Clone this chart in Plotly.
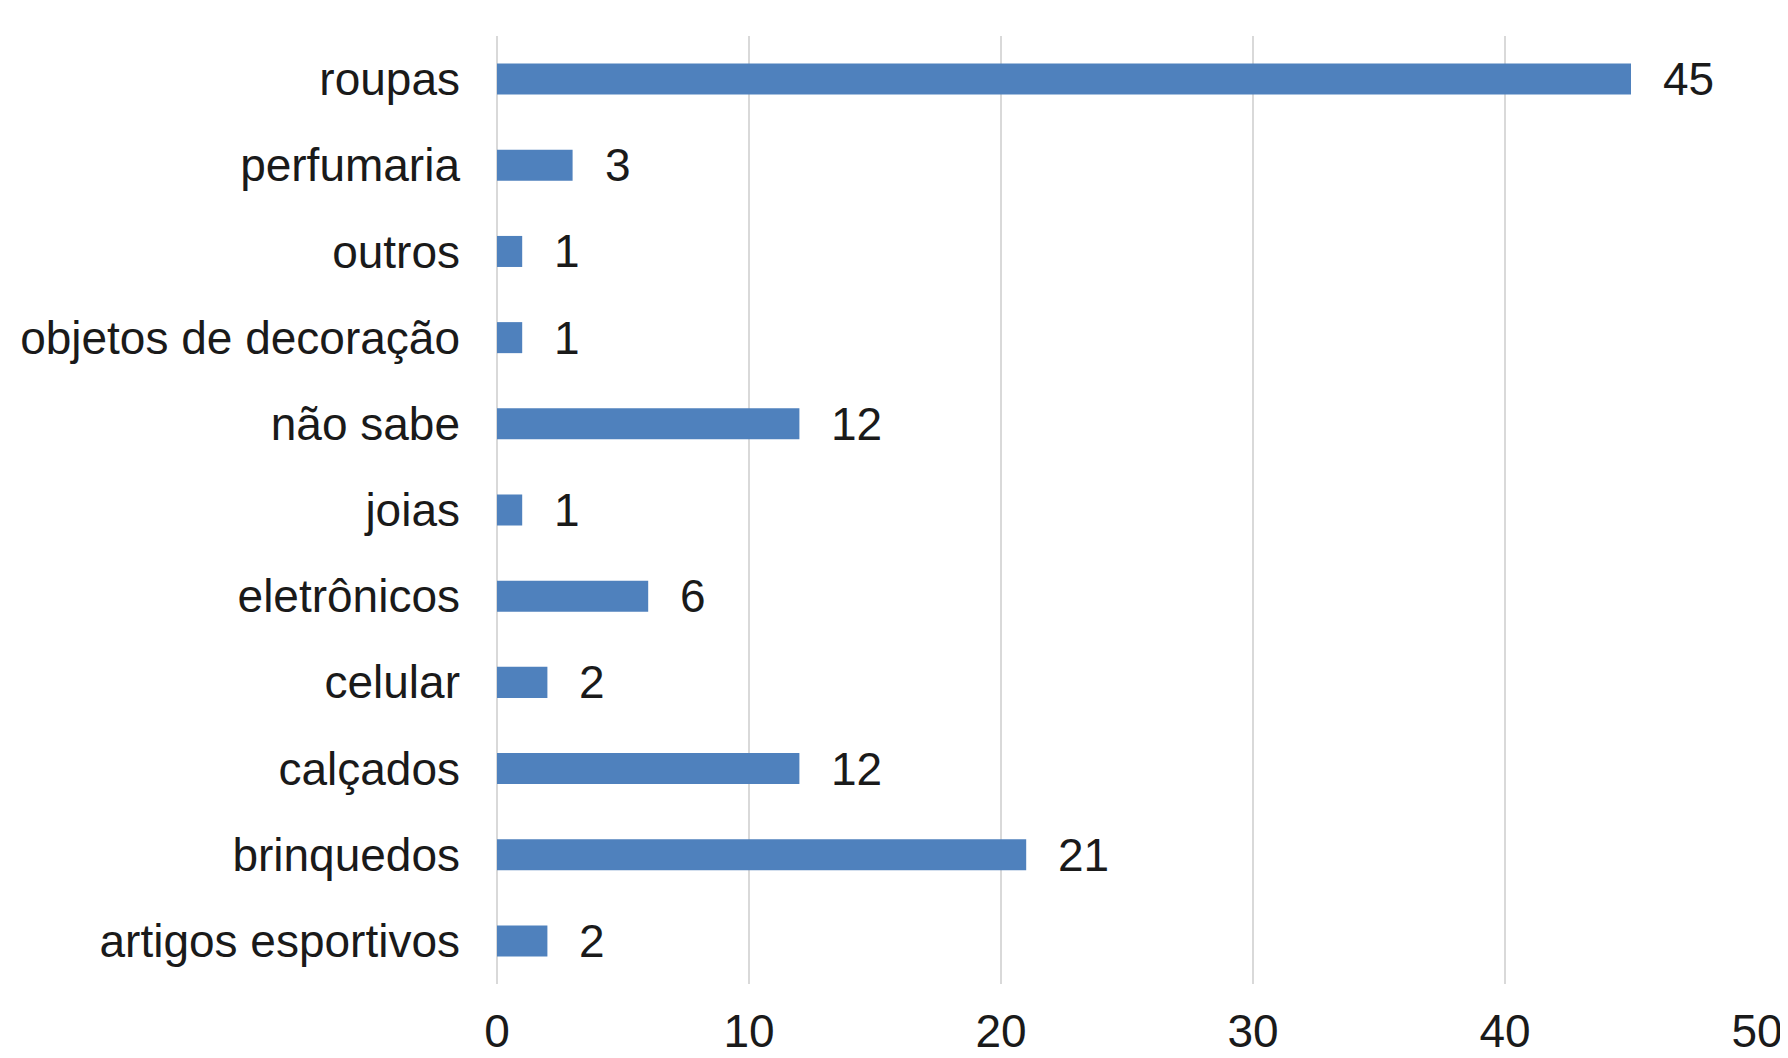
import plotly.graph_objects as go

categories = ["artigos esportivos", "brinquedos", "calçados", "celular", "eletrônicos",
              "joias", "não sabe", "objetos de decoração", "outros", "perfumaria", "roupas"]
values = [2, 21, 12, 2, 6, 1, 12, 1, 1, 3, 45]
x_ticks = [0, 10, 20, 30, 40, 50]

FONT = "Liberation Sans, Arial, sans-serif"
TXT = "#1a1a1a"

fig = go.Figure()
fig.add_trace(go.Bar(
    x=values, y=categories, orientation="h",
    marker=dict(color="#4F81BD", line=dict(width=0)),
    width=0.36,
    hoverinfo="x+y",
))

for c, v in zip(categories, values):
    fig.add_annotation(x=v, y=c, text=str(v), showarrow=False,
                       xanchor="left", yanchor="middle", xshift=30,
                       font=dict(family=FONT, size=46, color=TXT))

fig.update_layout(
    width=1780, height=1050,
    margin=dict(l=489, r=31, t=28, b=74, autoexpand=False),
    paper_bgcolor="white", plot_bgcolor="white",
    showlegend=False,
    font=dict(family=FONT, size=46, color=TXT),
    bargap=0.64,
)
fig.update_xaxes(range=[0, 50], tickvals=x_ticks, ticktext=[str(t) for t in x_ticks],
                 showgrid=True, gridcolor="#D9D9D9", gridwidth=2,
                 zeroline=True, zerolinecolor="#D9D9D9", zerolinewidth=2,
                 showline=False, ticks="", ticklabelstandoff=16, automargin=False,
                 tickfont=dict(family=FONT, size=46, color=TXT))
fig.update_yaxes(categoryorder="array", categoryarray=categories,
                 showgrid=False, showline=False, ticks="", ticklabelstandoff=36,
                 automargin=False,
                 tickfont=dict(family=FONT, size=46, color=TXT))

fig.write_html("out.html")
